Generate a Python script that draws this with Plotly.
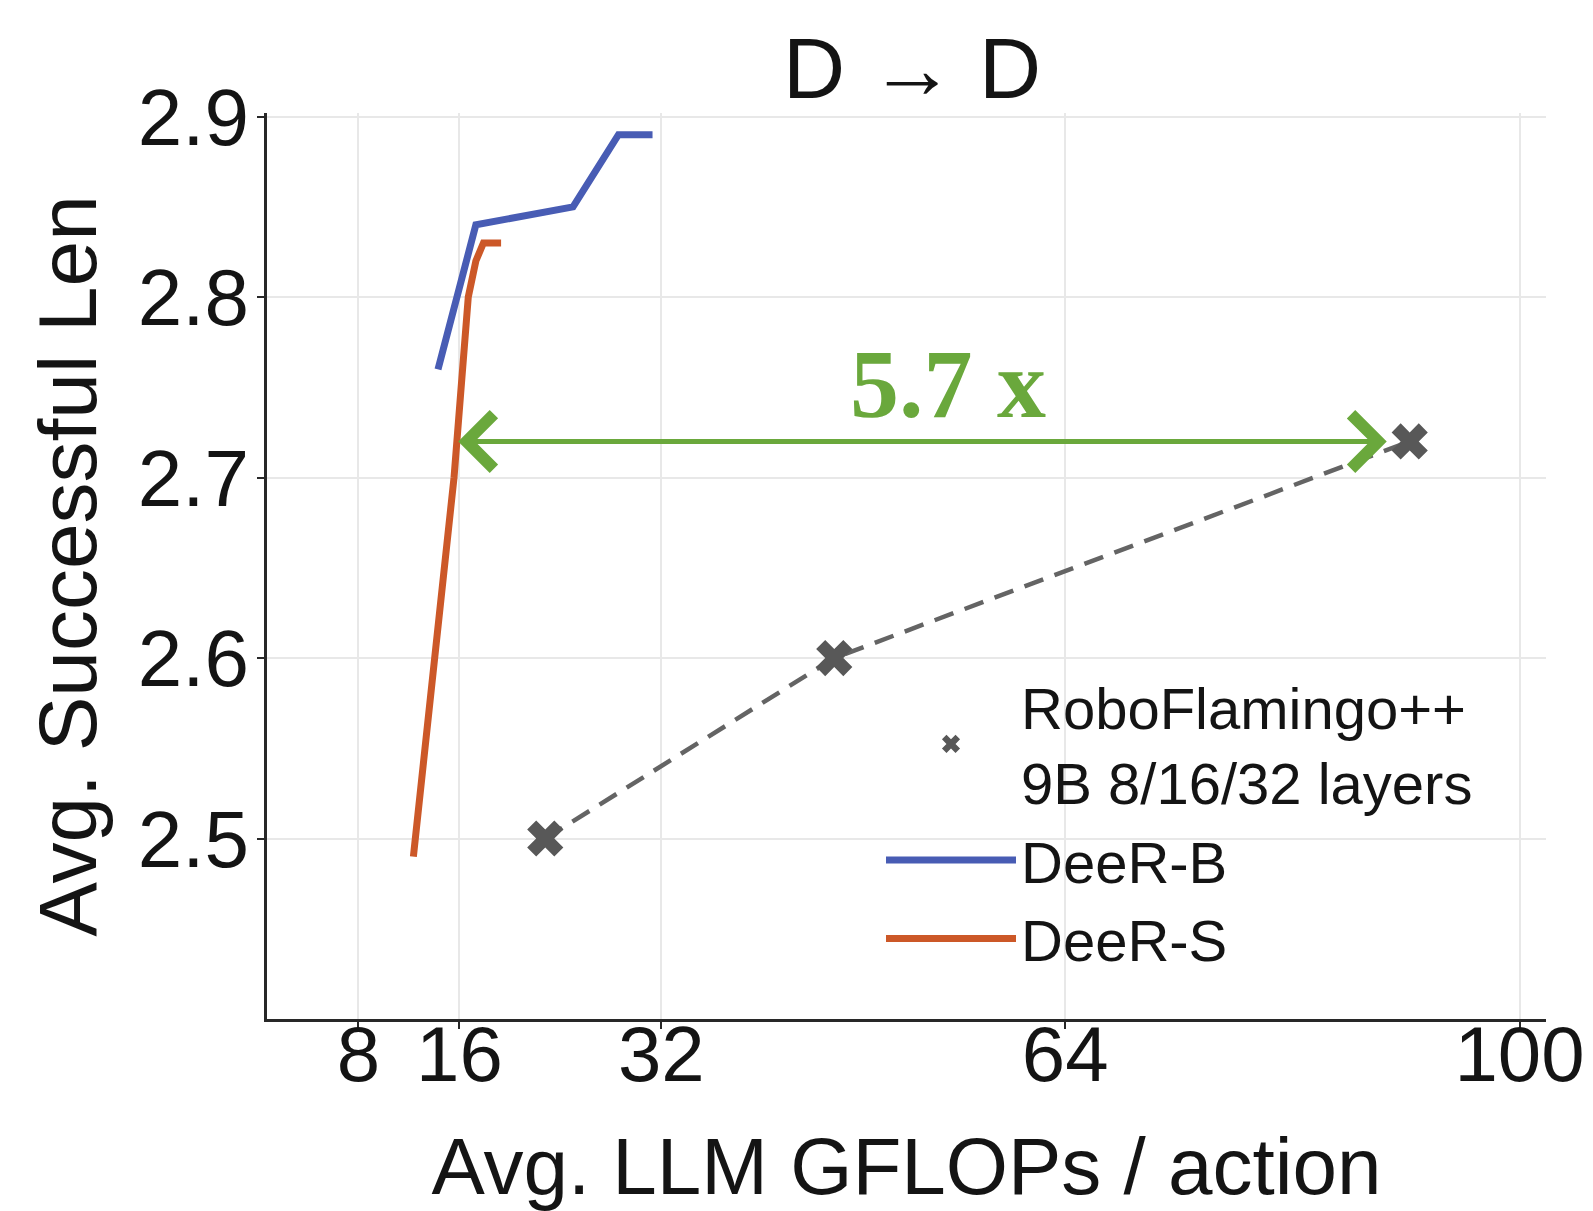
import plotly.graph_objects as go

# ---------------- data ----------------
deer_b_x = [14.3, 17.3, 25.0, 28.6, 31.3]
deer_b_y = [2.76, 2.84, 2.85, 2.89, 2.89]

deer_s_x = [12.35, 14.05, 15.57, 16.7, 17.3, 17.9, 19.3]
deer_s_y = [2.49, 2.60, 2.70, 2.80, 2.82, 2.83, 2.83]

robo_x = [22.8, 45.7, 91.3]
robo_y = [2.50, 2.60, 2.72]

x_ticks = [8, 16, 32, 64, 100]
y_ticks = [2.5, 2.6, 2.7, 2.8, 2.9]

speedup_label = "5.7 x"
arrow_left_x = 15.9
arrow_right_x = 89.6
arrow_y = 2.72
label_x = 54.7
label_y = 2.752

# ---------------- styles ----------------
BLUE = "rgb(72,92,180)"
ORANGE = "rgb(204,88,40)"
GRAY = "rgb(88,88,88)"
GREEN = "rgb(106,168,60)"
FONT = "Liberation Sans, Arial, sans-serif"

fig = go.Figure()

# dashed connector (no legend entry) + markers (legend entry)
fig.add_trace(go.Scatter(
    x=robo_x, y=robo_y, mode="lines", showlegend=False, hoverinfo="skip",
    line=dict(color="rgb(100,100,100)", width=4.5, dash="20px,12px"),
))
fig.add_trace(go.Scatter(
    x=robo_x, y=robo_y, mode="markers",
    name="RoboFlamingo++<br>9B 8/16/32 layers",
    marker=dict(symbol="x", size=32, color=GRAY, line=dict(width=0)),
))
fig.add_trace(go.Scatter(
    x=deer_b_x, y=deer_b_y, mode="lines", name="DeeR-B",
    line=dict(color=BLUE, width=7),
))
fig.add_trace(go.Scatter(
    x=deer_s_x, y=deer_s_y, mode="lines", name="DeeR-S",
    line=dict(color=ORANGE, width=7),
))

# double-headed arrow
fig.add_annotation(
    x=arrow_left_x, y=arrow_y, ax=arrow_right_x, ay=arrow_y,
    xref="x", yref="y", axref="x", ayref="y",
    text="", showarrow=True, arrowhead=4, startarrowhead=4,
    arrowside="end+start", arrowwidth=5, arrowsize=2.1, startarrowsize=2.1,
    arrowcolor=GREEN,
)
fig.add_annotation(
    x=label_x, y=label_y, xref="x", yref="y", text="<b>" + speedup_label + "</b>",
    showarrow=False, font=dict(family="Liberation Serif, Times New Roman, serif", size=98, color=GREEN),
)

axis_common = dict(
    showgrid=True, gridcolor="rgb(232,232,232)", gridwidth=2,
    showline=True, linecolor="rgb(40,40,40)", linewidth=3,
    ticks="outside", ticklen=7, tickwidth=2, tickcolor="rgb(40,40,40)",
    zeroline=False, mirror=False, automargin=False,
)

fig.update_layout(
    width=1593, height=1211,
    margin=dict(l=267, r=47, t=113, b=192),
    paper_bgcolor="white", plot_bgcolor="white",
    font=dict(family=FONT, color="rgb(20,20,20)"),
    title=dict(text="D \u2192 D", x=(912) / 1593, xanchor="center", y=1 - 68 / 1211, yanchor="middle",
               font=dict(size=86, family=FONT)),
    xaxis=dict(range=[0.75, 102.1], tickvals=x_ticks, ticktext=[str(v) for v in x_ticks],
               tickfont=dict(size=78), ticklabelstandoff=-42,
               title=dict(text="Avg. LLM GFLOPs / action", font=dict(size=80), standoff=45),
               **axis_common),
    yaxis=dict(range=[2.4, 2.902], tickvals=y_ticks, ticktext=[f"{v:.1f}" for v in y_ticks],
               tickfont=dict(size=80), ticklabelstandoff=-8,
               title=dict(text="Avg. Successful Len", font=dict(size=82), standoff=15),
               **axis_common),
    legend=dict(x=(881 - 267) / 1279, y=(1019 - 662) / 906, xanchor="left", yanchor="top",
                bgcolor="rgba(0,0,0,0)", font=dict(size=58, family=FONT), itemwidth=130,
                tracegroupgap=0),
    showlegend=True,
)

fig.write_html("out.html")
